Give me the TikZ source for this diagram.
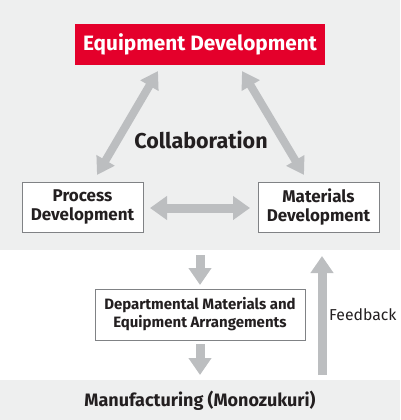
\documentclass[tikz,border=0pt]{standalone}
\usepackage{fontspec}
\setmainfont{Fira Sans}
\usetikzlibrary{arrows.meta}
\definecolor{bggray}{HTML}{EEEFEF}
\definecolor{arrgray}{HTML}{BCBEC0}
\definecolor{boxborder}{HTML}{808285}
\definecolor{txt}{HTML}{231F20}
\definecolor{redbox}{HTML}{E4002B}
\tikzset{
  bigarrow/.style={draw=arrgray, line width=9pt, -{Triangle[width=22pt,length=17pt]}},
  bigdbl/.style={draw=arrgray, line width=9pt, {Triangle[width=23pt,length=17pt]}-{Triangle[width=23pt,length=17pt]}},
  diagarrow/.style={draw=arrgray, line width=8pt, {Triangle[width=20pt,length=17pt]}-{Triangle[width=20pt,length=17pt]}},
  whitebox/.style={draw=boxborder, fill=white, line width=0.8pt, inner sep=0pt, align=center, text=txt, font=\bfseries\fontsize{17}{19}\selectfont},
  label/.style={text=txt, inner sep=0pt}
}
\begin{document}
\begin{tikzpicture}[x=1pt,y=-1pt]
\useasboundingbox (0,0) rectangle (400,420);
\fill[bggray] (0,0) rectangle (400,250);
\fill[bggray] (0,380) rectangle (400,420);
\node[fill=redbox, text=white, font=\bfseries\fontsize{20.8}{24}\selectfont, minimum width=250pt, minimum height=41pt, inner sep=0pt] (equip) at (200,44.5) {Equipment Development};
\node[label, font=\bfseries\fontsize{21.5}{24}\selectfont] (collab) at (201,140) {Collaboration};
\node[whitebox, minimum width=121pt, minimum height=50pt] (proc) at (82.5,207) {Process\\Development};
\node[whitebox, minimum width=121pt, minimum height=50pt] (mat) at (318.5,207) {Materials\\Development};
\node[whitebox, minimum width=210pt, minimum height=51pt, font=\bfseries\fontsize{15}{18}\selectfont] (dept) at (200,314.5) {Departmental Materials and\\Equipment Arrangements};
\node[label, font=\bfseries\fontsize{18}{20}\selectfont] (manu) at (200,401) {Manufacturing (Monozukuri)};
\node[label, anchor=west, font=\fontsize{15.8}{18}\selectfont] (fb) at (329,315) {Feedback};
\coordinate (l1) at (97,175); \coordinate (l2) at (158,71);
\coordinate (r1) at (304,175); \coordinate (r2) at (242,71);
\coordinate (h1) at (150,208); \coordinate (h2) at (250,208);
\coordinate (d1) at (200,255); \coordinate (d2) at (200,285);
\coordinate (e1) at (200,344); \coordinate (e2) at (200,375);
\coordinate (f1) at (322,375); \coordinate (f2) at (322,256);
\draw[diagarrow] (l1) -- (l2);
\draw[diagarrow] (r1) -- (r2);
\draw[bigdbl] (h1) -- (h2);
\draw[bigarrow] (d1) -- (d2);
\draw[bigarrow] (e1) -- (e2);
\draw[bigarrow] (f1) -- (f2);
\end{tikzpicture}
\end{document}
